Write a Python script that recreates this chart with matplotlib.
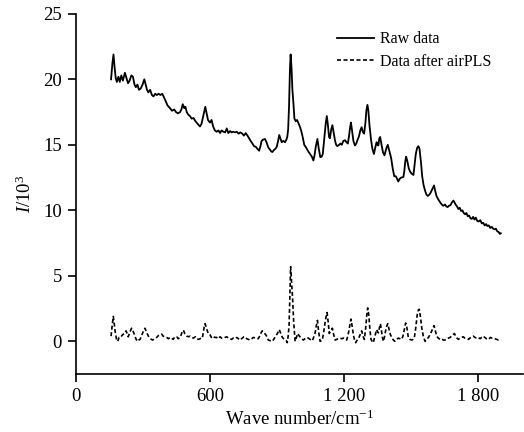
import matplotlib
matplotlib.use("Agg")
import matplotlib.pyplot as plt

plt.rcParams["font.family"] = ["Liberation Serif", "DejaVu Serif"]
plt.rcParams["mathtext.fontset"] = "custom"
plt.rcParams["mathtext.rm"] = "Liberation Serif"
plt.rcParams["mathtext.it"] = "Liberation Serif:italic"

# raw spectrum (wave number, intensity / 10^3)
raw_wn = [157, 163, 168, 173, 178, 183, 190, 196, 203, 210, 219, 226, 233, 240, 248, 255,
          262, 268, 275, 282, 290, 298, 306, 312, 318, 324, 332, 340, 347, 355, 362, 370,
          378, 386, 392, 400, 410, 421, 430, 440, 448, 456, 466, 472, 478, 485, 490, 496,
          503, 510, 518, 526, 535, 545, 555, 562, 570, 579, 585, 591, 600, 607, 614, 622,
          630, 638, 645, 652, 660, 668, 675, 682, 690, 697, 704, 712, 720, 728, 736, 745,
          752, 760, 768, 775, 782, 790, 797, 805, 812, 820, 826, 831, 838, 846, 853, 861,
          868, 874, 879, 886, 893, 899, 905, 910, 915, 921, 928, 936, 942, 946, 950, 954,
          958, 961, 965, 969, 973, 978, 984, 990, 995, 1002, 1008, 1015, 1022, 1030, 1040,
          1048, 1056, 1063, 1068, 1074, 1081, 1087, 1094, 1100, 1105, 1112, 1118, 1123,
          1128, 1133, 1137, 1143, 1148, 1153, 1160, 1165, 1170, 1178, 1184, 1190, 1197,
          1205, 1211, 1217, 1222, 1227, 1231, 1236, 1242, 1249, 1255, 1261, 1267, 1273,
          1279, 1284, 1290, 1296, 1300, 1305, 1309, 1314, 1321, 1327, 1334, 1340, 1346,
          1350, 1354, 1358, 1362, 1368, 1375, 1381, 1386, 1391, 1396, 1402, 1411, 1418,
          1425, 1432, 1438, 1443, 1449, 1456, 1466, 1470, 1474, 1478, 1483, 1490, 1496,
          1503, 1511, 1515, 1521, 1527, 1533, 1538, 1545, 1550, 1556, 1563, 1569, 1575,
          1582, 1588, 1595, 1603, 1608, 1614, 1620, 1627, 1633, 1640, 1645, 1652, 1658,
          1664, 1670, 1677, 1683, 1690, 1695, 1701, 1706, 1712, 1718, 1724, 1730, 1736,
          1742, 1748, 1754, 1760, 1766, 1772, 1778, 1784, 1790, 1796, 1803, 1810, 1817,
          1823, 1830, 1836, 1842, 1848, 1855, 1861, 1868, 1874, 1880, 1886, 1892, 1898, 1902]
raw_val = [20.0, 21.2, 21.9, 20.9, 20.1, 19.8, 20.2, 19.8, 20.3, 19.9, 20.5, 20.1, 19.7, 19.9,
           20.3, 20.2, 19.6, 19.4, 19.6, 19.2, 19.3, 19.6, 20.0, 19.6, 19.2, 19.0, 19.2, 18.8,
           18.7, 18.9, 18.8, 18.9, 18.8, 18.9, 18.7, 18.4, 18.0, 17.8, 17.6, 17.7, 17.5, 17.4,
           17.5, 17.7, 18.1, 17.8, 17.9, 17.5, 17.3, 17.2, 17.0, 17.05, 16.8, 16.6, 16.4, 16.6,
           17.2, 17.9, 17.4, 16.9, 16.7, 16.9, 16.4, 16.1, 16.0, 16.1, 15.9, 16.1, 16.0, 15.95,
           16.25, 15.9, 16.05, 15.95, 16.0, 15.95, 16.0, 15.85, 15.95, 15.85, 15.7, 15.9, 15.7,
           15.5, 15.3, 15.1, 14.9, 14.85, 14.7, 14.55, 14.9, 15.3, 15.4, 15.45, 15.2, 14.8,
           14.65, 14.5, 14.45, 14.6, 14.7, 14.85, 15.3, 15.75, 15.5, 15.2, 15.3, 15.2, 15.4,
           15.6, 16.2, 18.0, 20.8, 21.9, 20.9, 19.2, 18.3, 17.0, 16.8, 16.9, 16.7, 16.4, 16.1,
           15.6, 15.0, 14.8, 14.5, 14.3, 14.1, 13.8, 14.2, 14.9, 15.45, 14.7, 14.05, 14.1,
           14.3, 15.5, 16.6, 17.2, 16.5, 15.6, 15.5, 16.2, 16.5, 16.0, 15.3, 15.0, 14.9, 15.0,
           15.1, 15.0, 15.3, 15.35, 15.2, 15.1, 15.6, 16.3, 16.7, 16.1, 15.3, 14.95, 15.1,
           15.4, 15.65, 16.1, 16.35, 16.0, 15.85, 16.7, 17.6, 18.05, 17.6, 16.5, 15.4, 14.7,
           14.3, 14.8, 15.2, 15.0, 14.95, 15.5, 15.6, 15.0, 14.4, 14.2, 14.5, 14.8, 15.0, 14.6,
           14.0, 13.2, 12.6, 12.6, 12.4, 12.2, 12.4, 12.5, 12.55, 13.0, 13.7, 14.1, 13.8, 13.2,
           12.95, 12.8, 12.7, 13.3, 14.25, 14.75, 14.9, 14.7, 13.6, 12.6, 11.95, 11.5, 11.2,
           11.1, 11.2, 11.35, 11.6, 11.9, 11.5, 11.1, 10.9, 10.7, 10.55, 10.4, 10.35, 10.45,
           10.3, 10.25, 10.35, 10.4, 10.6, 10.75, 10.6, 10.4, 10.3, 10.1, 10.2, 9.95, 10.0,
           9.8, 9.7, 9.8, 9.55, 9.6, 9.4, 9.35, 9.5, 9.3, 9.45, 9.2, 9.15, 9.25, 9.0, 9.05,
           8.85, 8.95, 8.8, 8.85, 8.65, 8.75, 8.6, 8.55, 8.6, 8.4, 8.35, 8.2, 8.25]

# spectrum after airPLS baseline correction
pls_wn = [157, 162, 167, 171, 175, 181, 187, 193, 200, 206, 212, 218, 224, 229, 234, 241,
          249, 255, 261, 268, 275, 281, 287, 293, 300, 309, 316, 324, 333, 343, 352, 361,
          370, 378, 384, 390, 398, 406, 414, 421, 428, 435, 443, 451, 458, 466, 472, 477,
          481, 487, 496, 505, 511, 518, 526, 535, 542, 548, 556, 562, 566, 570, 574, 578,
          583, 588, 593, 600, 608, 615, 622, 630, 638, 645, 652, 660, 668, 675, 682, 690,
          697, 704, 712, 720, 727, 734, 745, 752, 757, 765, 772, 779, 787, 794, 805, 816,
          824, 830, 834, 840, 850, 856, 861, 870, 879, 887, 894, 902, 910, 917, 924, 930,
          936, 942, 946, 950, 954, 957, 961, 965, 970, 975, 981, 987, 993, 998, 1003, 1010,
          1018, 1025, 1033, 1040, 1048, 1058, 1064, 1070, 1076, 1081, 1086, 1093, 1098,
          1103, 1109, 1115, 1120, 1124, 1129, 1134, 1140, 1148, 1154, 1160, 1167, 1175,
          1182, 1190, 1197, 1205, 1212, 1216, 1220, 1226, 1231, 1236, 1242, 1247, 1252,
          1259, 1267, 1273, 1279, 1285, 1291, 1297, 1302, 1306, 1311, 1316, 1321, 1326,
          1331, 1337, 1341, 1346, 1350, 1354, 1358, 1363, 1368, 1372, 1376, 1381, 1386,
          1391, 1396, 1402, 1408, 1414, 1421, 1428, 1435, 1443, 1450, 1458, 1464, 1470,
          1476, 1481, 1488, 1495, 1503, 1509, 1515, 1521, 1528, 1533, 1537, 1542, 1548,
          1555, 1563, 1570, 1578, 1585, 1593, 1598, 1603, 1609, 1615, 1622, 1630, 1637,
          1645, 1652, 1660, 1668, 1675, 1682, 1688, 1694, 1700, 1706, 1712, 1719, 1727,
          1734, 1741, 1750, 1757, 1764, 1772, 1779, 1786, 1794, 1801, 1809, 1816, 1824,
          1830, 1838, 1847, 1855, 1862, 1869, 1876, 1884, 1891, 1898]
pls_val = [0.4, 1.2, 1.9, 1.4, 0.8, 0.2, 0.0, 0.3, 0.3, 0.45, 0.55, 0.6, 0.8, 0.6, 0.35, 0.7,
           1.0, 0.8, 0.55, 0.2, 0.0, 0.1, 0.15, 0.4, 0.7, 1.0, 0.7, 0.4, 0.2, 0.1, 0.2, 0.3,
           0.45, 0.5, 0.55, 0.4, 0.35, 0.3, 0.2, 0.3, 0.25, 0.15, 0.35, 0.35, 0.2, 0.3, 0.55,
           0.8, 0.85, 0.6, 0.4, 0.35, 0.4, 0.3, 0.25, 0.35, 0.2, 0.15, 0.2, 0.25, 0.25, 0.7,
           1.1, 1.35, 1.1, 0.8, 0.55, 0.5, 0.25, 0.35, 0.3, 0.3, 0.2, 0.35, 0.25, 0.25, 0.3,
           0.35, 0.25, 0.2, 0.15, 0.25, 0.2, 0.3, 0.2, 0.1, 0.25, 0.35, 0.35, 0.2, 0.15, 0.1,
           0.2, 0.3, 0.25, 0.2, 0.45, 0.7, 0.8, 0.7, 0.5, 0.3, 0.1, 0.05, 0.0, 0.2, 0.4, 0.6,
           0.9, 0.6, 0.3, 0.2, 0.15, 0.05, -0.1, 0.4, 1.2, 3.0, 5.7, 4.6, 3.2, 1.4, 0.0, 0.3,
           0.6, 0.45, 0.35, 0.2, 0.1, 0.2, 0.3, 0.25, 0.15, 0.05, 0.3, 0.6, 1.2, 1.6, 0.8,
           0.0, 0.05, 0.1, 0.7, 1.4, 1.9, 2.2, 1.5, 0.6, 0.8, 1.0, 0.5, 0.1, 0.15, 0.2, 0.25,
           0.2, 0.25, 0.2, 0.1, 0.35, 0.65, 1.2, 1.7, 1.2, 0.5, 0.1, -0.1, 0.1, 0.3, 0.55,
           0.8, 0.4, 0.15, 1.0, 2.0, 2.55, 2.0, 0.9, 0.15, 0.0, -0.1, 0.3, 0.6, 0.9, 0.75,
           0.65, 1.0, 1.35, 0.8, 0.3, 0.0, 0.3, 0.8, 1.15, 1.35, 0.9, 0.5, 0.3, 0.1, 0.0,
           0.15, 0.25, 0.2, 0.15, 0.4, 0.9, 1.4, 1.1, 0.3, 0.15, 0.1, 0.15, 0.3, 1.0, 2.05,
           2.4, 2.45, 1.9, 1.05, 0.4, 0.0, 0.15, 0.3, 0.5, 0.8, 1.0, 1.2, 0.8, 0.4, 0.25,
           0.15, 0.2, 0.1, 0.1, 0.2, 0.25, 0.3, 0.4, 0.5, 0.6, 0.4, 0.25, 0.15, 0.25, 0.3,
           0.35, 0.25, 0.2, 0.15, 0.25, 0.35, 0.4, 0.3, 0.25, 0.3, 0.2, 0.3, 0.4, 0.3, 0.2,
           0.15, 0.3, 0.25, 0.25, 0.2, 0.15, 0.1, 0.15]

x_ticks = [0, 600, 1200, 1800]
x_tick_labels = ["0", "600", "1 200", "1 800"]
y_ticks = [0, 5, 10, 15, 20, 25]

fig = plt.figure(figsize=(5.24, 4.32), dpi=100)
ax = fig.add_axes([0.145, 0.134, 0.8525, 0.834])

ax.plot(raw_wn, raw_val, color="black", lw=1.3, label="Raw data")
ax.plot(pls_wn, pls_val, color="black", lw=1.2, ls=(0, (2.4, 1.5)), label="Data after airPLS")

ax.set_xlim(0, 2000)
ax.set_ylim(-2.5, 25)
ax.set_xticks(x_ticks)
ax.set_xticklabels(x_tick_labels)
ax.set_yticks(y_ticks)
ax.tick_params(direction="out", length=6, width=1.2, labelsize=13.5, pad=4)
for side in ("top", "right"):
    ax.spines[side].set_visible(False)
for side in ("left", "bottom"):
    ax.spines[side].set_linewidth(1.2)

ax.set_xlabel("Wave number/cm$^{-1}$", fontsize=13.5, labelpad=3)
ax.set_ylabel("$\\mathit{I}$/10$^{3}$", fontsize=13.5, labelpad=6)

ax.legend(loc="upper left", bbox_to_anchor=(0.584, 0.951), frameon=False, fontsize=11.5,
          handlelength=2.3, handletextpad=0.4, borderpad=0, borderaxespad=0, labelspacing=0.4)

fig.savefig("out.png", dpi=100)
